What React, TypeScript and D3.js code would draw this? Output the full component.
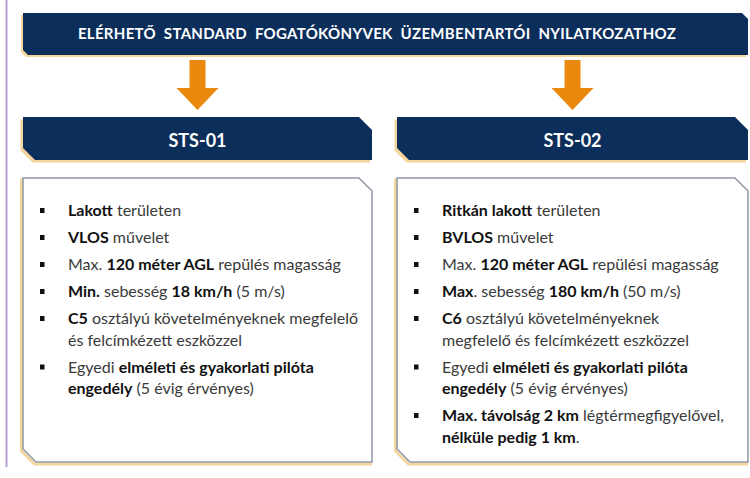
import React from "react";
import * as d3 from "d3";

type Seg = [string, boolean?];
type Line = Seg[];
type Item = Line[];

const TITLE = "ELÉRHETŐ STANDARD FOGATÓKÖNYVEK ÜZEMBENTARTÓI NYILATKOZATHOZ";
const COLUMNS = ["STS-01", "STS-02"];

const STS01_ITEMS: Item[] = [
  [[["Lakott", true], [" területen"]]],
  [[["VLOS", true], [" művelet"]]],
  [[["Max. "], ["120 méter AGL", true], [" repülés magasság"]]],
  [[["Min.", true], [" sebesség "], ["18 km/h", true], [" (5 m/s)"]]],
  [
    [["C5", true], [" osztályú követelményeknek megfelelő"]],
    [["és felcímkézett eszközzel"]],
  ],
  [
    [["Egyedi "], ["elméleti és gyakorlati pilóta", true]],
    [["engedély", true], [" (5 évig érvényes)"]],
  ],
];

const STS02_ITEMS: Item[] = [
  [[["Ritkán lakott", true], [" területen"]]],
  [[["BVLOS", true], [" művelet"]]],
  [[["Max. "], ["120 méter AGL", true], [" repülési magasság"]]],
  [[["Max", true], [". sebesség "], ["180 km/h", true], [" (50 m/s)"]]],
  [
    [["C6", true], [" osztályú követelményeknek"]],
    [["megfelelő és felcímkézett eszközzel"]],
  ],
  [
    [["Egyedi "], ["elméleti és gyakorlati pilóta", true]],
    [["engedély", true], [" (5 évig érvényes)"]],
  ],
  [
    [["Max. távolság 2 km", true], [" légtérmegfigyelővel,"]],
    [["nélküle pedig 1 km", true], ["."]],
  ],
];

const ITEMS = [STS01_ITEMS, STS02_ITEMS];

const NAVY = "#0c2e5b";
const GOLD = "#f4d59b";
const ORANGE = "#e98a0e";
const FONT = "Lato, 'Open Sans', sans-serif";

// polygon with optional chamfers: tr = top-right, bl = bottom-left
function shape(x0: number, y0: number, x1: number, y1: number, tr: number, bl: number) {
  const p = d3.path();
  p.moveTo(x0, y0);
  p.lineTo(x1 - tr, y0);
  p.lineTo(x1, y0 + tr);
  p.lineTo(x1, y1);
  p.lineTo(x0 + bl, y1);
  p.lineTo(x0, y1 - bl);
  p.closePath();
  return p.toString();
}

function arrow(cx: number, y0: number, yHead: number, yTip: number, sw: number, hw: number) {
  const p = d3.path();
  p.moveTo(cx - sw / 2, y0);
  p.lineTo(cx + sw / 2, y0);
  p.lineTo(cx + sw / 2, yHead);
  p.lineTo(cx + hw / 2, yHead);
  p.lineTo(cx, yTip);
  p.lineTo(cx - hw / 2, yHead);
  p.lineTo(cx - sw / 2, yHead);
  p.closePath();
  return p.toString();
}

export default function App() {
  const W = 750;
  const H = 478;
  const colX = d3.scaleBand<string>().domain(COLUMNS).range([23, 746]).paddingInner(25 / 374).paddingOuter(0);
  const colRight = (c: string, ci: number) => (ci === COLUMNS.length - 1 ? 748 : colX(c)! + colX.bandwidth());
  const lineH = 21.5;
  const gap = 5.5;

  return (
    <svg width={W} height={H} style={{ position: "absolute", left: 0, top: 0, background: "#fff" }}>
      <rect x={0} y={0} width={W} height={H} fill="#fff" />
      <line x1={6.5} x2={6.5} y1={0} y2={467} stroke="#b89fd3" strokeWidth={2} />

      {/* top banner */}
      <path d={shape(21, 15, 746, 57, 6, 5)} fill={GOLD} />
      <path d={shape(23, 13, 748, 55, 6, 5)} fill={NAVY} />
      <text
        x={377}
        y={38.5}
        textAnchor="middle"
        fill="#fff"
        fontFamily={FONT}
        fontWeight={700}
        fontSize={15}
        wordSpacing={4}
        letterSpacing={0.3}
      >
        {TITLE}
      </text>

      {COLUMNS.map((c, ci) => {
        const x0 = colX(c)!;
        const x1 = colRight(c, ci);
        const cx = ci === 0 ? 197.5 : 572.5;
        let y = 216;
        return (
          <g key={c}>
            <path d={arrow(cx, 60, 88, 110, 16, 42)} fill={ORANGE} />
            {/* STS banner */}
            <path d={shape(x0 - 2.5, 119.5, x1 - 2, 162.5, 13, 12)} fill={GOLD} />
            <path d={shape(x0, 117, x1, 160, 13, 12)} fill={NAVY} />
            <text x={cx} y={146.5} textAnchor="middle" fill="#fff" fontFamily={FONT} fontWeight={700} fontSize={18}>
              {c}
            </text>
            {/* content box */}
            <path d={shape(x0 - 1.5, 180, x1 - 1.5, 464, 13, 13)} fill="none" stroke={GOLD} strokeWidth={3} />
            <path d={shape(x0, 178, x1, 462, 13, 13)} fill="#fff" stroke="#8e98a7" strokeWidth={1.5} />
            {ITEMS[ci].map((item, ii) => {
              const yStart = y;
              y += item.length * lineH + gap;
              return (
                <g key={ii}>
                  <rect x={x0 + 17} y={yStart - 8} width={4.5} height={5} fill="#111" />
                  {item.map((line, li) => (
                    <text
                      key={li}
                      x={x0 + 45}
                      y={yStart + li * lineH}
                      fontFamily={FONT}
                      fontSize={16}
                      fill="#3a3a3a"
                    >
                      {line.map((s, si) => (
                        <tspan key={si} fontWeight={s[1] ? 700 : 400} fill={s[1] ? "#111" : "#3a3a3a"}>
                          {s[0]}
                        </tspan>
                      ))}
                    </text>
                  ))}
                </g>
              );
            })}
          </g>
        );
      })}
    </svg>
  );
}
